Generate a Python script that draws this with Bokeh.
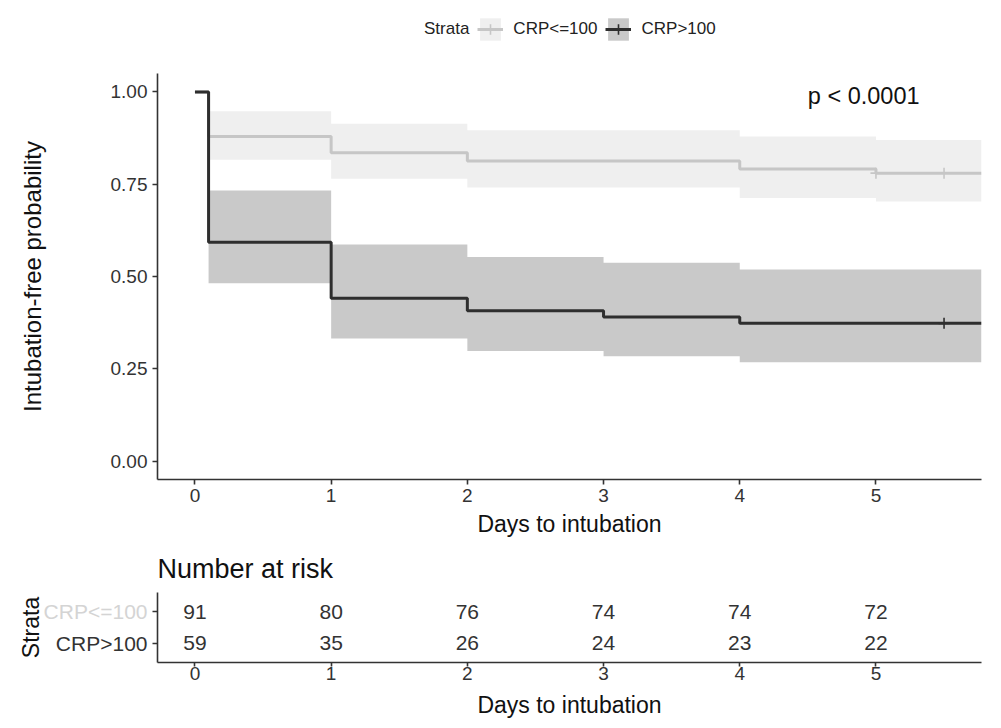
import numpy as np
from bokeh.plotting import figure
from bokeh.layouts import column, row
from bokeh.models import Range1d, Label, Legend, LegendItem, FixedTicker, NumeralTickFormatter
from bokeh.embed import file_html
from bokeh.resources import INLINE
from bokeh.core.properties import value

# ---------------- data ----------------
strata = ["CRP<=100", "CRP>100"]
line_colors = ["#c6c6c6", "#2e2e2e"]
band_colors = ["#efefef", "#c9c9c9"]
label_colors = ["#d4d4d4", "#333333"]

time_low = [0, 0.1, 1, 2, 4, 5]
surv_low = [1.0, 0.879, 0.835, 0.813, 0.791, 0.780]
lower_low = [1.0, 0.816, 0.765, 0.741, 0.713, 0.703]
upper_low = [1.0, 0.948, 0.914, 0.896, 0.879, 0.870]
censor_low = [5.0, 5.5]

time_high = [0, 0.1, 1, 2, 3, 4]
surv_high = [1.0, 0.593, 0.441, 0.407, 0.390, 0.373]
lower_high = [1.0, 0.482, 0.332, 0.298, 0.284, 0.268]
upper_high = [1.0, 0.733, 0.587, 0.553, 0.537, 0.519]
censor_high = [5.5]

end_time = 5.775

risk_times = [0, 1, 2, 3, 4, 5]
risk_low = [91, 80, 76, 74, 74, 72]
risk_high = [59, 35, 26, 24, 23, 22]

x_ticks = [0, 1, 2, 3, 4, 5]
y_ticks = [0.0, 0.25, 0.5, 0.75, 1.0]
p_text = "p < 0.0001"
x_title = "Days to intubation"
y_title = "Intubation-free probability"
legend_title = "Strata"
risk_title = "Number at risk"

FONT = "Liberation Sans"
DARK = "#333333"


def steps(t, v, end):
    xs, ys = [], []
    for i in range(len(t)):
        t1 = t[i + 1] if i + 1 < len(t) else end
        xs += [t[i], t1]
        ys += [v[i], v[i]]
    return xs, ys


def style_axis(ax, label_size="19px", title_size="23px"):
    ax.axis_line_color = DARK
    ax.axis_line_width = 1.6
    ax.major_tick_line_color = DARK
    ax.major_tick_line_width = 1.6
    ax.major_tick_out = 5
    ax.major_tick_in = 0
    ax.minor_tick_line_color = None
    ax.major_label_text_font = FONT
    ax.major_label_text_font_size = label_size
    ax.major_label_text_color = DARK
    ax.axis_label_text_font = FONT
    ax.axis_label_text_font_size = title_size
    ax.axis_label_text_font_style = "normal"
    ax.axis_label_text_color = "#111111"


def clean(fig):
    fig.grid.visible = False
    fig.outline_line_color = None
    fig.background_fill_color = "white"
    fig.border_fill_color = "white"


def draw_curves(fig):
    """Draw bands, step lines and censor marks of every stratum; return renderers."""
    groups = [
        (time_low, surv_low, lower_low, upper_low, censor_low),
        (time_high, surv_high, lower_high, upper_high, censor_high),
    ]
    bands, lines, crosses = [], [], []
    for gi, (t, s, lo, up, cen) in enumerate(groups):
        xs, ylo = steps(t, lo, end_time)
        _, yup = steps(t, up, end_time)
        bands.append(fig.varea(x=xs, y1=ylo, y2=yup, fill_color=band_colors[gi], fill_alpha=1.0))
    for gi, (t, s, lo, up, cen) in enumerate(groups):
        xs, ys = steps(t, s, end_time)
        lines.append(fig.line(xs, ys, line_color=line_colors[gi], line_width=3))
        idx = np.searchsorted(np.array(t), np.array(cen), side="right") - 1
        cy = [s[i] for i in idx]
        crosses.append(fig.scatter(cen, cy, marker="cross", size=11, line_color=line_colors[gi],
                                   line_width=1.6))
    return bands, lines, crosses


x_range = Range1d(-0.275, end_time)

# ---------------- legend strip (its ranges keep the curves out of view) ----------------
leg = figure(width=993, height=50, x_range=Range1d(-3, -2), y_range=Range1d(0, 1), title=None,
             output_backend="svg", toolbar_location=None,
             x_axis_location=None, y_axis_location=None,
             min_border_left=0, min_border_right=0, min_border_top=0, min_border_bottom=0)
clean(leg)
kb, kl, kc = draw_curves(leg)
key_title = leg.scatter([-10], [-10], marker="square", size=1, fill_alpha=0, line_alpha=0)
items = [LegendItem(label=legend_title, renderers=[key_title])]
items += [LegendItem(label=strata[i], renderers=[kb[i], kl[i], kc[i]]) for i in range(len(strata))]
legend = Legend(items=items, orientation="horizontal", location=(231, 7),
                glyph_width=26, glyph_height=28, label_standoff=10, spacing=8,
                padding=0, margin=0, border_line_color=None, background_fill_alpha=0,
                label_text_font=FONT, label_text_font_size="17px", label_text_color="#222222")
leg.add_layout(legend, "center")

# ---------------- survival plot ----------------
p = figure(width=993, height=490, x_range=x_range, y_range=Range1d(-0.05, 1.05), title=None,
           output_backend="svg", toolbar_location=None,
           min_border_left=157, min_border_right=12, min_border_top=23, min_border_bottom=61)
clean(p)
draw_curves(p)

p.xaxis.ticker = FixedTicker(ticks=x_ticks)
p.yaxis.ticker = FixedTicker(ticks=y_ticks)
p.yaxis.formatter = NumeralTickFormatter(format="0.00")
p.xaxis.axis_label = x_title
p.yaxis.axis_label = y_title
style_axis(p.xaxis[0])
style_axis(p.yaxis[0], title_size="24px")
p.xaxis.major_label_standoff = 4
p.xaxis.axis_label_standoff = 6
p.yaxis.major_label_standoff = 5
p.yaxis.axis_label_standoff = 62

p.add_layout(Label(x=4.5, y=0.99, text=p_text, text_font=FONT, text_font_size="23.5px",
                   text_baseline="middle", text_align="left", text_color="#111111"))

# ---------------- risk table ----------------
n = len(strata)
row_pos = [n - i for i in range(n)]
risk = [risk_low, risk_high]
y_rng = Range1d(0.4, 2.6)

# left part: strata names (each in its own colour) and the "Strata" title
lab = figure(width=150, height=180, x_range=Range1d(0, 150), y_range=y_rng, title=None,
             output_backend="svg", toolbar_location=None,
             x_axis_location=None, y_axis_location=None,
             min_border_left=0, min_border_right=0, min_border_top=52, min_border_bottom=56)
clean(lab)
lab.text(x=[147] * n, y=row_pos, text=strata, text_color=label_colors,
         text_font=value(FONT), text_font_size="21px", text_align="right",
         text_baseline="middle")
lab.text(x=[30], y=[(row_pos[0] + row_pos[-1]) / 2], text=[legend_title], angle=np.pi / 2,
         text_color="#111111", text_font=value(FONT), text_font_size="23px",
         text_align="center", text_baseline="middle")

t2 = figure(width=843, height=180, x_range=x_range, y_range=y_rng,
            output_backend="svg", toolbar_location=None,
            min_border_left=7, min_border_right=12, min_border_top=52, min_border_bottom=56)
clean(t2)
tx, ty, tt = [], [], []
for i in range(n):
    tx += risk_times
    ty += [row_pos[i]] * len(risk_times)
    tt += [str(v) for v in risk[i]]
t2.text(x=tx, y=ty, text=tt, text_font=value(FONT), text_font_size="21px",
        text_align="center", text_baseline="middle", text_color=DARK)

t2.xaxis.ticker = FixedTicker(ticks=x_ticks)
t2.xaxis.axis_label = x_title
style_axis(t2.xaxis[0])
style_axis(t2.yaxis[0])
# y axis of the table: tick marks only (names are drawn in the left part)
t2.yaxis.ticker = FixedTicker(ticks=[], minor_ticks=row_pos)
t2.yaxis.minor_tick_line_color = DARK
t2.yaxis.minor_tick_line_width = 1.6
t2.yaxis.minor_tick_out = 5
t2.yaxis.minor_tick_in = 0
t2.xaxis.major_tick_out = 4
t2.xaxis.major_label_standoff = 0
t2.xaxis.axis_label_standoff = 9

t2.title.text = risk_title
t2.title.text_font = FONT
t2.title.text_font_size = "27px"
t2.title.text_font_style = "normal"
t2.title.text_color = "#111111"
t2.title.align = "left"
t2.title.standoff = 17

layout = column(leg, p, row(lab, t2, spacing=0), spacing=0)
open("out.html", "w").write(file_html(layout, INLINE))
